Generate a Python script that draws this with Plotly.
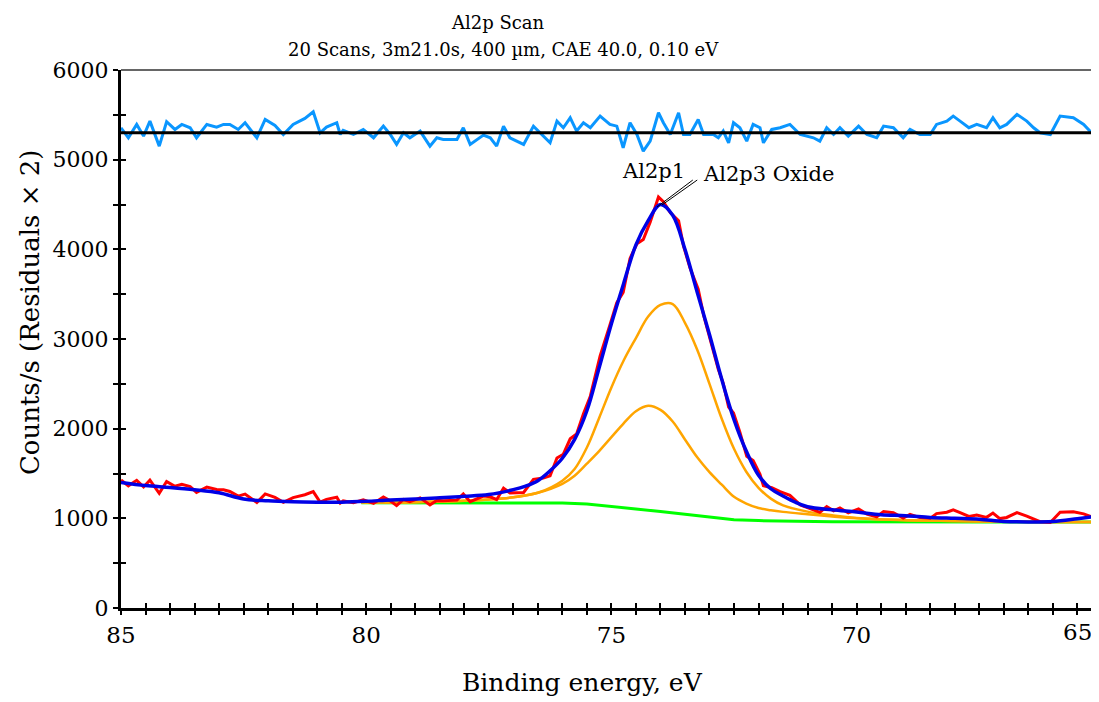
import numpy as np
import plotly.graph_objects as go

# ---------------- data ----------------
# Fitted envelope (blue)
fit_energy = [85.0, 84.5, 84.0, 83.5, 83.0, 82.5, 82.0, 81.5, 81.0, 80.5, 80.0, 79.5, 79.0,
              78.5, 78.0, 77.5, 77.0, 76.75, 76.5, 76.25, 76.0, 75.75, 75.5, 75.25, 75.0,
              74.75, 74.5, 74.25, 74.0, 73.75, 73.5, 73.25, 73.0, 72.75, 72.5, 72.25, 72.0,
              71.75, 71.5, 71.25, 71.0, 70.5, 70.0, 69.5, 69.0, 68.5, 68.0, 67.5, 67.0,
              66.5, 66.0, 65.5, 65.0]
fit_counts = [1400, 1365, 1345, 1320, 1285, 1215, 1195, 1185, 1180, 1180, 1190, 1205, 1215,
              1230, 1245, 1265, 1320, 1360, 1420, 1530, 1670, 1880, 2200, 2680, 3170,
              3620, 4050, 4320, 4500, 4380, 4000, 3520, 3050, 2550, 2100, 1750, 1480,
              1330, 1250, 1180, 1130, 1095, 1070, 1040, 1030, 1010, 1000, 990, 965,
              960, 965, 995, 1030]

# Components (orange) on the same energy grid
comp_energy = [80.1, 79.0, 78.0, 77.5, 77.0, 76.5, 76.0, 75.75, 75.5, 75.25, 75.0, 74.75,
               74.5, 74.25, 74.0, 73.75, 73.5, 73.25, 73.0, 72.75, 72.5, 72.25, 72.0, 71.75,
               71.5, 71.0, 70.5, 70.0, 69.0, 68.0, 67.0, 66.0, 65.2]
oxide_counts = [1176, 1180, 1195, 1210, 1235, 1285, 1420, 1550, 1790, 2120, 2460, 2760,
                3010, 3250, 3380, 3390, 3180, 2880, 2500, 2110, 1775, 1520, 1340, 1220,
                1145, 1075, 1035, 1005, 980, 970, 962, 960, 960]
al2p1_counts = [1176, 1180, 1195, 1210, 1235, 1285, 1385, 1475, 1610, 1750, 1905, 2060,
                2195, 2255, 2210, 2080, 1880, 1680, 1515, 1375, 1240, 1165, 1115, 1090,
                1072, 1045, 1020, 1000, 980, 970, 962, 960, 960]

# Background (green)
bg_energy = [80.1, 77.0, 76.0, 75.5, 75.0, 74.5, 74.0, 73.5, 73.0, 72.5, 72.0, 70.5, 67.0, 65.2]
bg_counts = [1175, 1175, 1170, 1160, 1135, 1105, 1075, 1045, 1015, 985, 975, 962, 960, 960]

# Measured data (red) and residuals x2 shifted to the 5300 line (light blue)
scan_energy = [85.0, 84.85, 84.68, 84.54, 84.41, 84.22, 84.07, 83.90, 83.76, 83.59, 83.46,
               83.25, 83.05, 82.91, 82.78, 82.61, 82.47, 82.23, 82.06, 81.86, 81.69, 81.49,
               81.25, 81.08, 80.94, 80.81, 80.60, 80.53, 80.47, 80.26, 80.06, 79.85, 79.65,
               79.51, 79.38, 79.24, 79.11, 78.90, 78.70, 78.56, 78.43, 78.15, 78.02, 77.88,
               77.61, 77.47, 77.34, 77.20, 77.07, 76.79, 76.59, 76.39, 76.25, 76.11, 75.98,
               75.84, 75.71, 75.57, 75.43, 75.23, 75.03, 74.89, 74.76, 74.62, 74.48, 74.35,
               74.21, 74.04, 73.94, 73.80, 73.63, 73.53, 73.40, 73.23, 73.12, 72.92, 72.82,
               72.72, 72.61, 72.51, 72.38, 72.24, 72.11, 71.97, 71.90, 71.73, 71.56, 71.36,
               71.15, 70.88, 70.75, 70.61, 70.47, 70.34, 70.17, 69.96, 69.79, 69.59, 69.45,
               69.25, 69.05, 68.91, 68.71, 68.50, 68.37, 68.16, 68.03, 67.89, 67.71, 67.55,
               67.35, 67.22, 67.08, 66.94, 66.73, 66.53, 66.39, 66.26, 66.05, 65.85, 65.58,
               65.37, 65.21]
data_counts = [1428, 1362, 1424, 1350, 1426, 1279, 1410, 1358, 1379, 1353, 1289,
               1348, 1321, 1318, 1300, 1248, 1270, 1176, 1272, 1233, 1179, 1231,
               1263, 1298, 1180, 1212, 1236, 1170, 1194, 1175, 1207, 1166, 1237,
               1195, 1142, 1210, 1185, 1228, 1149, 1200, 1195, 1203, 1272, 1185,
               1248, 1240, 1208, 1335, 1284, 1289, 1435, 1450, 1474, 1673, 1715,
               1887, 1941, 2166, 2362, 2812, 3157, 3405, 3519, 3899, 4062, 4110,
               4303, 4583, 4532, 4410, 4320, 4038, 3798, 3557, 3266, 2880, 2662,
               2506, 2242, 2174, 1960, 1693, 1646, 1490, 1364, 1342, 1297, 1257,
               1150, 1094, 1067, 1131, 1083, 1115, 1061, 1105, 1047, 1017, 1076,
               1063, 1003, 1044, 1008, 1000, 1053, 1068, 1094, 1063, 1022, 1037,
               1011, 1059, 997, 1010, 1064, 1025, 989, 962, 954, 1067, 1073,
               1050, 1018]
resid_counts = [5355, 5244, 5393, 5263, 5430, 5151, 5423, 5337, 5393, 5356, 5244,
                5393, 5363, 5393, 5393, 5337, 5412, 5244, 5449, 5382, 5281, 5393,
                5460, 5534, 5300, 5363, 5412, 5281, 5326, 5281, 5337, 5244, 5374,
                5281, 5170, 5300, 5244, 5319, 5151, 5244, 5226, 5226, 5356, 5170,
                5274, 5244, 5151, 5374, 5244, 5170, 5374, 5263, 5188, 5430, 5356,
                5467, 5319, 5412, 5356, 5486, 5393, 5374, 5133, 5412, 5281, 5095,
                5207, 5523, 5412, 5281, 5523, 5281, 5281, 5449, 5281, 5281, 5244,
                5319, 5188, 5412, 5356, 5207, 5393, 5356, 5188, 5337, 5356, 5393,
                5281, 5244, 5207, 5356, 5281, 5356, 5263, 5374, 5281, 5244, 5374,
                5356, 5244, 5337, 5281, 5281, 5393, 5430, 5486, 5430, 5356, 5393,
                5356, 5467, 5356, 5393, 5505, 5430, 5356, 5300, 5281, 5486, 5467,
                5393, 5300]
RESID_ZERO = 5300

x_major = [85, 80, 75, 70]
y_major = [0, 1000, 2000, 3000, 4000, 5000, 6000]
X_RANGE = [85, 65.2]
Y_RANGE = [0, 6000]

assert len(scan_energy) == len(data_counts) == len(resid_counts)

FONT = "DejaVu Serif"

# ---------------- figure ----------------
fig = go.Figure()
fig.add_trace(go.Scatter(x=scan_energy, y=resid_counts, mode="lines",
                         line=dict(color="#0A96FF", width=3), name="Residuals"))
fig.add_trace(go.Scatter(x=bg_energy, y=bg_counts, mode="lines",
                         line=dict(color="#00FF00", width=3), name="Background"))
fig.add_trace(go.Scatter(x=comp_energy, y=al2p1_counts, mode="lines",
                         line=dict(color="#FFA500", width=2.5, shape="spline"), name="Al2p1"))
fig.add_trace(go.Scatter(x=comp_energy, y=oxide_counts, mode="lines",
                         line=dict(color="#FFA500", width=2.5, shape="spline"), name="Al2p3 Oxide"))
fig.add_trace(go.Scatter(x=scan_energy, y=data_counts, mode="lines",
                         line=dict(color="#FF0000", width=3), name="Data"))
fig.add_trace(go.Scatter(x=fit_energy, y=fit_counts, mode="lines",
                         line=dict(color="#0000E6", width=3.5, shape="spline"), name="Envelope"))
# invisible trace for the overlay (inside tick) axes
fig.add_trace(go.Scatter(x=[], y=[], xaxis="x2", yaxis="y2", showlegend=False, hoverinfo="skip"))

x_ticks = list(np.round(np.arange(85, 65.1, -0.5), 1))
x_text = [str(int(v)) if v in x_major else "" for v in x_ticks]
y_ticks = list(range(0, 6001, 500))
y_text = [str(v) if v in y_major else "" for v in y_ticks]

# The page body has an 8px margin; size the figure so the plot area lands where the
# reference has it (left 121, right 1092, top 70, bottom 608 in window pixels).
fig.update_layout(
    width=1091, height=694,
    margin=dict(l=113, r=7, t=62, b=94),
    paper_bgcolor="white", plot_bgcolor="white",
    showlegend=False,
    font=dict(family=FONT, color="black"),
    xaxis=dict(range=X_RANGE, showgrid=False, zeroline=False, showline=True, linewidth=3,
               linecolor="black", ticks="outside", ticklen=4, tickwidth=2, tickcolor="black",
               tickmode="array", tickvals=x_ticks, ticktext=x_text,
               tickfont=dict(family=FONT, size=23, color="black")),
    yaxis=dict(range=Y_RANGE, showgrid=False, zeroline=False, showline=True, linewidth=3,
               linecolor="black", ticks="outside", ticklen=5, tickwidth=2, tickcolor="black",
               tickmode="array", tickvals=y_ticks, ticktext=y_text,
               tickfont=dict(family=FONT, size=22, color="black")),
    xaxis2=dict(range=X_RANGE, overlaying="x", anchor="y", side="bottom", showgrid=False,
                zeroline=False, showline=False, ticks="inside", ticklen=5, tickwidth=2,
                tickcolor="black", tickmode="array", tickvals=x_ticks, showticklabels=False),
    yaxis2=dict(range=Y_RANGE, overlaying="y", anchor="x", side="left", showgrid=False,
                zeroline=False, showline=False, ticks="inside", ticklen=5, tickwidth=2,
                tickcolor="black", tickmode="array", tickvals=y_ticks, showticklabels=False),
)

# frame (top/right thin), residual zero line, label leaders
fig.add_shape(type="line", xref="paper", yref="paper", x0=0, x1=1, y0=1, y1=1,
              line=dict(color="#333333", width=1.5))
fig.add_shape(type="line", xref="paper", yref="paper", x0=1, x1=1, y0=0, y1=1,
              line=dict(color="#333333", width=1.5))
fig.add_shape(type="line", xref="paper", yref="y", x0=0, x1=1, y0=RESID_ZERO, y1=RESID_ZERO,
              line=dict(color="black", width=3))
fig.add_shape(type="line", xref="x", yref="y", x0=74.07, y0=4472, x1=73.34, y1=4773,
              line=dict(color="black", width=1))
fig.add_shape(type="line", xref="x", yref="y", x0=73.97, y0=4494, x1=73.25, y1=4773,
              line=dict(color="black", width=1))

ann_font = dict(family=FONT, size=21, color="black")
fig.add_annotation(x=74.15, y=4873, xref="x", yref="y", text="Al2p1", showarrow=False,
                   font=ann_font, xanchor="center", yanchor="middle")
fig.add_annotation(x=71.80, y=4840, xref="x", yref="y", text="Al2p3 Oxide", showarrow=False,
                   font=ann_font, xanchor="center", yanchor="middle")

# titles
fig.add_annotation(x=0.388, y=1.089, xref="paper", yref="paper", text="Al2p Scan",
                   showarrow=False, xanchor="center", yanchor="middle",
                   font=dict(family=FONT, size=18, color="black"))
fig.add_annotation(x=0.394, y=1.039, xref="paper", yref="paper",
                   text="20 Scans, 3m21.0s, 400 \u00b5m, CAE 40.0, 0.10 eV",
                   showarrow=False, xanchor="center", yanchor="middle",
                   font=dict(family=FONT, size=18, color="black"))
fig.add_annotation(x=0.475, y=-0.139, xref="paper", yref="paper", text="Binding energy, eV",
                   showarrow=False, xanchor="center", yanchor="middle",
                   font=dict(family=FONT, size=25, color="black"))
fig.add_annotation(x=-0.0937, y=0.55, xref="paper", yref="paper",
                   text="Counts/s (Residuals \u00d7 2)", textangle=-90,
                   showarrow=False, xanchor="center", yanchor="middle",
                   font=dict(family=FONT, size=26, color="black"))
# right-edge tick label
fig.add_annotation(x=0.9846, y=-0.0446, xref="paper", yref="paper", text="65",
                   showarrow=False, xanchor="center", yanchor="middle",
                   font=dict(family=FONT, size=23, color="black"))

fig.write_html("out.html")
